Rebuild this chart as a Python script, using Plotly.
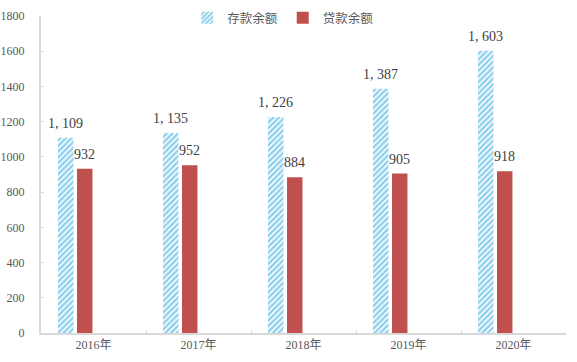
import plotly.graph_objects as go

categories = ["2016年", "2017年", "2018年", "2019年", "2020年"]
deposits = [1109, 1135, 1226, 1387, 1603]
loans = [932, 952, 884, 905, 918]
series_names = ["存款余额", "贷款余额"]
y_ticks = [0, 200, 400, 600, 800, 1000, 1200, 1400, 1600, 1800]

BLUE = "#1a9fd9"
RED = "#c0504d"
FONT = "Liberation Serif, Noto Sans CJK SC, serif"

def fmt(v):
    return f"{v:,}".replace(",", ", ")

W = 0.147
OFF_DEP = -0.338
OFF_LOAN = -0.157

fig = go.Figure()
fig.add_trace(go.Bar(
    x=categories, y=deposits, name=series_names[0],
    width=W, offset=OFF_DEP,
    marker=dict(color="white", line=dict(width=0),
                pattern=dict(shape="/", fgcolor=BLUE, bgcolor="white",
                             size=4, solidity=0.6, fillmode="overlay")),
))
fig.add_trace(go.Bar(
    x=categories, y=loans, name=series_names[1],
    width=W, offset=OFF_LOAN,
    marker=dict(color=RED, line=dict(width=0)),
))

annotations = []
for i, (d, l) in enumerate(zip(deposits, loans)):
    annotations.append(dict(x=i + OFF_DEP + W / 2, y=d, text=fmt(d), showarrow=False,
                            xref="x", yref="y", yanchor="bottom", yshift=5,
                            font=dict(family=FONT, size=14, color="#404040")))
    annotations.append(dict(x=i + OFF_LOAN + W / 2, y=l, text=fmt(l), showarrow=False,
                            xref="x", yref="y", yanchor="bottom", yshift=5,
                            font=dict(family=FONT, size=14, color="#404040")))

fig.update_layout(
    width=577, height=362,
    margin=dict(l=41, r=11, t=16, b=29, autoexpand=False),
    paper_bgcolor="white", plot_bgcolor="white",
    font=dict(family=FONT, size=12, color="#595959"),
    barmode="group",
    showlegend=True,
    legend=dict(orientation="h", x=0.49, xanchor="center", xref="container",
                y=1 - 18 / 362, yanchor="middle", yref="container",
                font=dict(family=FONT, size=12.5, color="#595959"),
                bgcolor="rgba(0,0,0,0)", itemwidth=30, tracegroupgap=0),
    annotations=annotations,
    xaxis=dict(type="category", showgrid=False, showline=True, linecolor="#d9d9d9",
               linewidth=2, ticks="inside", tickson="boundaries", ticklen=3,
               tickcolor="#d9d9d9", tickfont=dict(size=12, color="#595959"),
               range=[-0.5, 4.5], automargin=False),
    yaxis=dict(range=[0, 1800], tickvals=y_ticks, showgrid=False, showline=True,
               linecolor="#d9d9d9", linewidth=2, ticks="inside", ticklen=3,
               tickcolor="#d9d9d9", zeroline=False, ticklabelstandoff=12,
               automargin=False, tickfont=dict(size=12, color="#595959")),
)

fig.write_html(
    "out.html",
    config={"displayModeBar": False},
    post_script="document.body.style.margin='0px';document.documentElement.style.overflow='hidden';",
)
